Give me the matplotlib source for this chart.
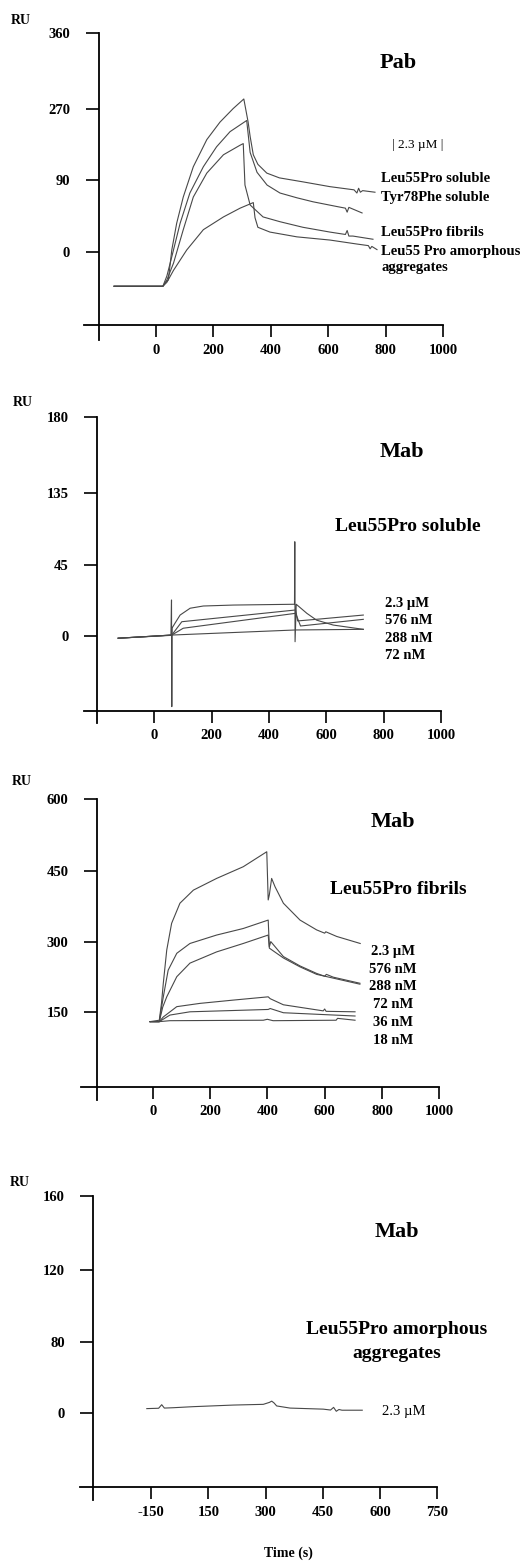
import matplotlib
matplotlib.use("Agg")
import matplotlib.pyplot as plt

plt.rcParams['font.family'] = ['Liberation Serif', 'DejaVu Serif']

W, H = 532, 1562
fig = plt.figure(figsize=(W / 100, H / 100), dpi=100)
fig.patch.set_facecolor('white')
LINE = '#484848'

# ---------------- data ----------------
# Panel 1: Pab, 2.3 uM
p1_sol_t = [-146, 24, 36, 43, 55, 72, 95, 130, 177, 223, 269, 306, 321, 328, 339, 355, 386, 430, 512, 606, 690, 700, 706, 712, 720, 763]
p1_sol_ru = [-43, -43, -37, -35, 2.5, 36, 69, 107, 141, 163, 180, 192, 163, 145, 122, 110, 99, 93, 88, 82, 78, 74, 80, 75, 77, 75]
p1_tyr_t = [-146, 24, 38, 55, 84, 118, 165, 211, 258, 316, 328, 352, 387, 432, 491, 547, 631, 660, 666, 672, 718]
p1_tyr_ru = [-43, -43, -30, -6, 36, 74, 107, 132, 151, 165, 125, 100, 84, 74, 68, 63, 57, 55, 50, 56, 49]
p1_fib_t = [-146, 24, 38, 61, 95, 130, 177, 235, 293, 304, 310, 328, 373, 432, 512, 606, 660, 666, 672, 686, 756]
p1_fib_ru = [-43, -43, -35, -14, 28, 69, 99, 122, 134, 136, 84, 59, 44, 38, 31, 25, 22, 27, 20, 20, 16]
p1_amo_t = [-146, 24, 38, 61, 107, 165, 235, 293, 339, 345, 355, 397, 491, 606, 700, 740, 746, 752, 770]
p1_amo_ru = [-43, -43, -38, -23, 2.5, 28, 44, 55, 62, 43, 31, 25, 19, 15, 10, 8, 4, 7, 3]

# Panel 2: Mab, Leu55Pro soluble
p2_23_t = [-126, 58, 60, 61, 62, 72, 90, 125, 171, 276, 489, 490, 491, 495, 532, 566, 624, 729]
p2_23_ru = [-1.4, 0.4, 22.7, -44.5, 5, 8, 13.2, 17.5, 18.9, 19.5, 20, 59.4, -3.6, 20, 14.3, 10, 6.9, 4.2]
p2_576_t = [-126, 61, 96, 493, 500, 577, 729]
p2_576_ru = [-1.4, 0.6, 9, 16.4, 9.5, 10.7, 13.2]
p2_288_t = [-126, 61, 101, 493, 510, 729]
p2_288_ru = [-1.4, 0.6, 4.9, 14.3, 6.3, 10.5]
p2_72_t = [-126, 61, 493, 729]
p2_72_ru = [-1.4, 0.6, 3.8, 4.2]

# Panel 3: Mab, Leu55Pro fibrils
p3_23_t = [-9, 23, 31, 37, 49, 66, 95, 142, 223, 316, 398, 403, 407, 415, 427, 456, 514, 572, 600, 604, 642, 724]
p3_23_ru = [129, 132, 170, 211, 282, 339, 382, 410, 435, 460, 492, 389, 400, 435, 417, 382, 346, 325, 318, 321, 311, 296]
p3_576_t = [-9, 23, 31, 37, 54, 84, 130, 223, 316, 403, 407, 412, 456, 514, 572, 600, 606, 630, 723]
p3_576_ru = [129, 129, 160, 182, 239, 275, 296, 314, 328, 346, 289, 300, 268, 248, 232, 226, 230, 224, 211]
p3_288_t = [-9, 23, 35, 49, 84, 130, 223, 316, 403, 407, 456, 514, 572, 723]
p3_288_ru = [129, 129, 160, 182, 225, 254, 278, 296, 314, 286, 265, 246, 230, 209]
p3_72_t = [-9, 23, 37, 84, 165, 281, 403, 410, 456, 595, 600, 605, 706]
p3_72_ru = [129, 129, 139, 161, 168, 175, 182, 178, 165, 152, 156, 151, 150]
p3_36_t = [-9, 23, 60, 130, 403, 410, 456, 706]
p3_36_ru = [129, 129, 143, 150, 155, 157, 148, 141]
p3_18_t = [-9, 23, 60, 386, 400, 420, 640, 645, 706]
p3_18_ru = [129, 129, 131, 132, 134, 131, 132, 136, 132]

# Panel 4: Mab, Leu55Pro amorphous aggregates
p4_t = [-11, 20, 28, 35, 58, 111, 216, 294, 310, 316, 322, 329, 364, 451, 470, 478, 485, 492, 500, 553]
p4_ru = [2.3, 2.5, 4.5, 2.6, 2.8, 3.4, 4.3, 4.7, 5.8, 6.5, 5.5, 3.8, 2.6, 2.0, 1.5, 3.0, 0.8, 1.8, 1.4, 1.4]

# tick labels as printed
p1_xt = [0, 200, 400, 600, 800, 1000]
p1_yt = [0, 90, 180, 275]
p1_ytl = ['0', '90', '270', '360']
p2_yt = [0, 45, 90, 138]
p2_ytl = ['0', '45', '135', '180']
p3_yt = [150, 300, 450, 605]
p3_ytl = ['150', '300', '450', '600']
p4_xt = [0, 150, 300, 450, 600, 750]
p4_xtl = ['-150', '150', '300', '450', '600', '750']
p4_yt = [0, 40, 80, 122]
p4_ytl = ['0', '80', '120', '160']


# ---------------- helpers ----------------
def px_axes(box, x0px, xs, y0px, ys):
    L, T, R, B = box
    ax = fig.add_axes([L / W, 1 - B / H, (R - L) / W, (B - T) / H])
    ax.set_xlim((L - x0px) / xs, (R - x0px) / xs)
    ax.set_ylim((y0px - B) / ys, (y0px - T) / ys)
    ax.patch.set_visible(False)
    for s in ('top', 'right'):
        ax.spines[s].set_visible(False)
    return ax


def style_axes(ax, yaxis_x, xaxis_y, ybounds, xbounds, xticks, xlabels, yticks, ylabels):
    ax.spines['left'].set_position(('data', yaxis_x))
    ax.spines['bottom'].set_position(('data', xaxis_y))
    ax.spines['left'].set_bounds(*ybounds)
    ax.spines['bottom'].set_bounds(*xbounds)
    for s in ('left', 'bottom'):
        ax.spines[s].set_linewidth(1.3)
    ax.set_xticks(xticks)
    ax.set_xticklabels(xlabels, fontweight='bold', fontsize=10.5)
    ax.set_yticks(yticks)
    ax.set_yticklabels(ylabels, fontweight='bold', fontsize=10.5)
    ax.tick_params(axis='x', direction='out', length=8.5, width=1.2, pad=5)
    ax.tick_params(axis='y', direction='out', length=9.5, width=1.2, pad=11)


def ftext(x, y, s, **kw):
    kw.setdefault('fontweight', 'bold')
    kw.setdefault('va', 'center')
    fig.text(x / W, 1 - y / H, s, **kw)


def curve(ax, t, ru):
    ax.plot(t, ru, color=LINE, lw=0.8)


# ---------------- panel 1 ----------------
ax1 = px_axes((75, 18, 470, 348), 156, 0.287, 252, 0.797)
for t, r in [(p1_sol_t, p1_sol_ru), (p1_tyr_t, p1_tyr_ru), (p1_fib_t, p1_fib_ru), (p1_amo_t, p1_amo_ru)]:
    curve(ax1, t, r)
style_axes(ax1, -200, -92, (-110, 275), (-250, 1000), p1_xt, [str(v) for v in p1_xt], p1_yt, p1_ytl)
ftext(11, 20, 'RU', fontsize=10, ha='left')
ftext(398, 63, 'Pab', fontsize=16, ha='center')
ftext(418, 145, '| 2.3 µM |', fontsize=9.5, ha='center', fontweight='normal')
ftext(381, 179, 'Leu55Pro soluble', fontsize=10.5, ha='left')
ftext(381, 197, 'Tyr78Phe soluble', fontsize=10.5, ha='left')
ftext(381, 232, 'Leu55Pro fibrils', fontsize=10.5, ha='left')
ftext(381, 251, 'Leu55 Pro amorphous', fontsize=10.5, ha='left')
ftext(381, 268, 'aggregates', fontsize=10.5, ha='left')

# ---------------- panel 2 ----------------
ax2 = px_axes((75, 398, 470, 735), 154.3, 0.2867, 636, 1.587)
for t, r in [(p2_23_t, p2_23_ru), (p2_576_t, p2_576_ru), (p2_288_t, p2_288_ru), (p2_72_t, p2_72_ru)]:
    curve(ax2, t, r)
style_axes(ax2, -200, -47, (-55, 138), (-245, 1000), p1_xt, [str(v) for v in p1_xt], p2_yt, p2_ytl)
ftext(13, 403, 'RU', fontsize=10, ha='left')
ftext(402, 452, 'Mab', fontsize=16, ha='center')
ftext(408, 526, 'Leu55Pro soluble', fontsize=14, ha='center')
for y, s in zip([603, 620.5, 638, 655.5], ['2.3 µM', '576 nM', '288 nM', '72 nM']):
    ftext(385, y, s, fontsize=10.5, ha='left')

# ---------------- panel 3 ----------------
ax3 = px_axes((75, 780, 470, 1110), 152.7, 0.2866, 1082, 0.468)
for t, r in [(p3_23_t, p3_23_ru), (p3_576_t, p3_576_ru), (p3_288_t, p3_288_ru),
             (p3_72_t, p3_72_ru), (p3_36_t, p3_36_ru), (p3_18_t, p3_18_ru)]:
    curve(ax3, t, r)
style_axes(ax3, -195, -10, (-39, 605), (-250, 1000), p1_xt, [str(v) for v in p1_xt], p3_yt, p3_ytl)
ftext(12, 782, 'RU', fontsize=10, ha='left')
ftext(393, 822, 'Mab', fontsize=16, ha='center')
ftext(398, 890, 'Leu55Pro fibrils', fontsize=14, ha='center')
for y, s in zip([952, 969.5, 987, 1005, 1022.5, 1040],
                ['2.3 µM', '576 nM', '288 nM', '72 nM', '36 nM', '18 nM']):
    ftext(393, y, s, fontsize=10.5, ha='center')

# ---------------- panel 4 ----------------
ax4 = px_axes((65, 1175, 470, 1510), 151, 0.382, 1412.7, 1.778)
curve(ax4, p4_t, p4_ru)
style_axes(ax4, -151, -42, (-49, 122), (-186, 750), p4_xt, p4_xtl, p4_yt, p4_ytl)
ftext(10, 1182, 'RU', fontsize=10, ha='left')
ftext(397, 1232, 'Mab', fontsize=16, ha='center')
ftext(397, 1329, 'Leu55Pro amorphous', fontsize=14, ha='center')
ftext(397, 1353, 'aggregates', fontsize=14, ha='center')
ftext(382, 1412, '2.3 µM', fontsize=10.5, ha='left', fontweight='normal')
ftext(288, 1553, 'Time (s)', fontsize=10, ha='center')

fig.savefig('out.png', dpi=100, facecolor='white')
